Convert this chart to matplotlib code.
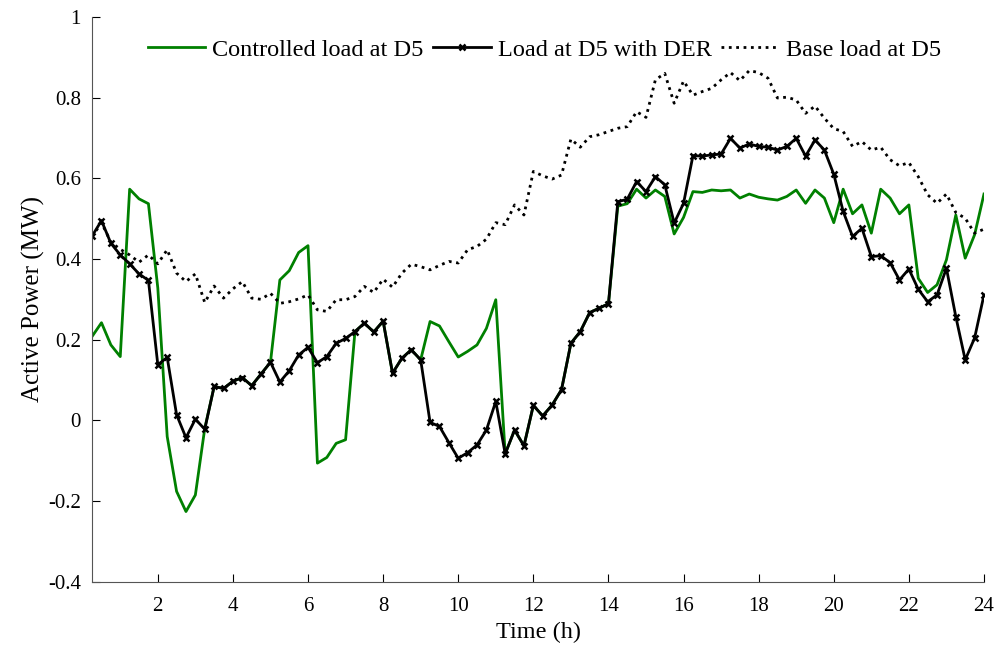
import numpy as np
import matplotlib
matplotlib.use("Agg")
import matplotlib.pyplot as plt

plt.rcParams['font.family'] = ['Liberation Serif', 'DejaVu Serif']
plt.rcParams['axes.unicode_minus'] = False

# time in hours, 15 min steps
hours = np.arange(1, 97) * 0.25

# load at D5 with DER (black, x markers)
load_der = [0.457, 0.495, 0.439, 0.410, 0.388, 0.363, 0.347, 0.138,
            0.156, 0.014, -0.043, 0.003, -0.022, 0.084, 0.079, 0.097,
            0.106, 0.086, 0.115, 0.144, 0.095, 0.123, 0.162, 0.181,
            0.143, 0.158, 0.191, 0.203, 0.220, 0.241, 0.219, 0.246,
            0.117, 0.154, 0.175, 0.150, -0.005, -0.015, -0.055, -0.094,
            -0.080, -0.061, -0.024, 0.047, -0.083, -0.024, -0.063, 0.037,
            0.011, 0.038, 0.076, 0.191, 0.220, 0.267, 0.278, 0.289,
            0.542, 0.548, 0.592, 0.567, 0.604, 0.584, 0.489, 0.538,
            0.656, 0.655, 0.658, 0.660, 0.699, 0.675, 0.685, 0.679,
            0.677, 0.670, 0.679, 0.699, 0.655, 0.695, 0.670, 0.610,
            0.518, 0.456, 0.476, 0.406, 0.408, 0.391, 0.348, 0.375,
            0.325, 0.294, 0.311, 0.377, 0.257, 0.150, 0.204, 0.311]

# controlled load at D5 (green)
controlled = [0.208, 0.242, 0.187, 0.158, 0.573, 0.549, 0.537, 0.328,
              -0.040, -0.176, -0.226, -0.185, -0.020, 0.084, 0.079, 0.097,
              0.106, 0.086, 0.115, 0.144, 0.348, 0.371, 0.416, 0.433,
              -0.106, -0.092, -0.057, -0.048, 0.220, 0.241, 0.219, 0.246,
              0.117, 0.154, 0.175, 0.150, 0.245, 0.234, 0.195, 0.157,
              0.171, 0.187, 0.228, 0.299, -0.083, -0.024, -0.063, 0.037,
              0.011, 0.038, 0.076, 0.191, 0.220, 0.267, 0.278, 0.289,
              0.531, 0.537, 0.573, 0.551, 0.571, 0.555, 0.462, 0.503,
              0.567, 0.565, 0.571, 0.569, 0.571, 0.551, 0.561, 0.553,
              0.549, 0.546, 0.555, 0.571, 0.538, 0.571, 0.551, 0.490,
              0.573, 0.512, 0.534, 0.464, 0.573, 0.551, 0.512, 0.534,
              0.352, 0.317, 0.336, 0.398, 0.509, 0.402, 0.460, 0.561]

# base load at D5 (dotted)
base = [0.455, 0.490, 0.442, 0.424, 0.410, 0.392, 0.410, 0.388,
        0.423, 0.365, 0.344, 0.363, 0.292, 0.333, 0.303, 0.326,
        0.344, 0.303, 0.300, 0.315, 0.290, 0.294, 0.301, 0.311,
        0.274, 0.270, 0.299, 0.299, 0.307, 0.332, 0.317, 0.350,
        0.330, 0.365, 0.387, 0.381, 0.373, 0.384, 0.394, 0.390,
        0.423, 0.431, 0.449, 0.490, 0.485, 0.534, 0.509, 0.617,
        0.606, 0.598, 0.608, 0.697, 0.677, 0.703, 0.708, 0.716,
        0.724, 0.728, 0.765, 0.751, 0.844, 0.860, 0.786, 0.841,
        0.806, 0.815, 0.823, 0.844, 0.862, 0.842, 0.867, 0.862,
        0.848, 0.799, 0.801, 0.794, 0.761, 0.779, 0.749, 0.723,
        0.716, 0.679, 0.691, 0.670, 0.677, 0.646, 0.631, 0.639,
        0.604, 0.559, 0.538, 0.561, 0.515, 0.501, 0.464, 0.474]

fig = plt.figure(figsize=(10.01, 6.5), dpi=100)
ax = fig.add_axes([0.092, 0.105, 0.891, 0.869])

ax.plot(hours, controlled, color='#008000', lw=2, label='Controlled load at D5')
ax.plot(hours, load_der, color='black', lw=2, marker='x', ms=5, mew=1.8,
        label='Load at D5 with DER')
ax.plot(hours, base, color='black', lw=2, ls=':', label='Base load at D5')

ax.set_xlim(0.25, 24)
ax.set_ylim(-0.4, 1)
ax.set_xticks(np.arange(2, 25, 2))
ax.set_yticks([-0.4, -0.2, 0, 0.2, 0.4, 0.6, 0.8, 1])
ax.set_yticklabels(['-0.4', '-0.2', '0', '0.2', '0.4', '0.6', '0.8', '1'])
ax.tick_params(direction='in', length=6, labelsize=15)
ax.tick_params(axis='x', pad=11)
ax.tick_params(axis='y', pad=8)
ax.spines['top'].set_visible(False)
ax.spines['right'].set_visible(False)
for s in ['left', 'bottom']:
    ax.spines[s].set_color('#555555')

ax.set_xlabel('Time (h)', fontsize=17.5, labelpad=4)
ax.set_ylabel('Active Power (MW)', fontsize=18, labelpad=2)

ax.legend(loc='upper center', bbox_to_anchor=(0.507, 1.0), ncol=3,
          frameon=False, fontsize=17.5, handlelength=2.35, handletextpad=0.29,
          columnspacing=0.41, borderaxespad=0.5)

fig.savefig('out.png', dpi=100)
